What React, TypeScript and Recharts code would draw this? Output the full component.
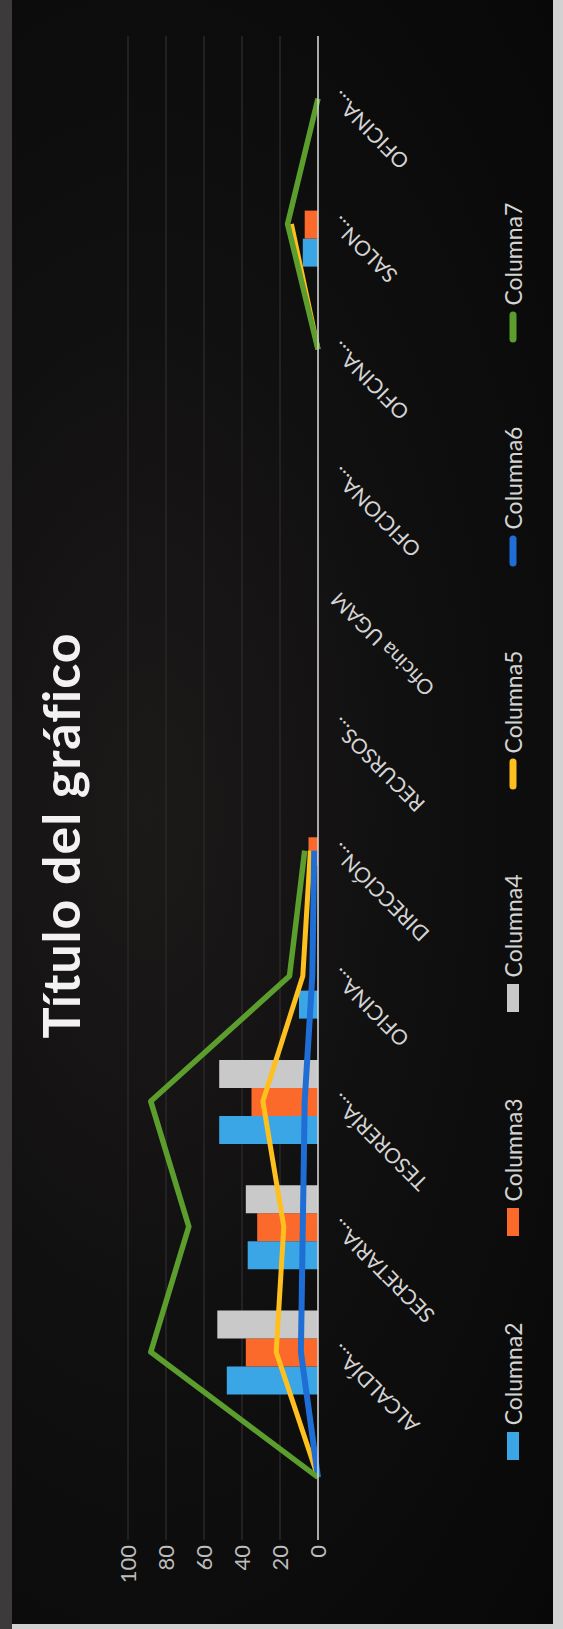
import React from 'react';
import { ComposedChart, Bar, Line, XAxis, YAxis, CartesianGrid, Legend } from 'recharts';

const categories = [
  '',
  'ALCALDÍA...',
  'SECRETARIA...',
  'TESORERÍA...',
  'OFICINA...',
  'DIRECCIÓN...',
  'RECURSOS...',
  'Oficina UGAM',
  'OFICIONA...',
  'OFICINA...',
  'SALON...',
  'OFICINA...',
];

const columna2 = [0, 48, 37, 52, 10, 0, 0, 0, 0, 0, 8, 0];
const columna3 = [0, 38, 32, 35, 0, 5, 0, 0, 0, 0, 7, 0];
const columna4 = [0, 53, 38, 52, 0, 0, 0, 0, 0, 0, 0, 0];
const columna5 = [0, 22, 18, 29, 8, 4, null, null, null, 0, 14, null];
const columna6 = [0, 9, 8, 7, 3, 2, null, null, null, null, null, null];
const columna7 = [0, 88, 68, 88, 15, 7, null, null, null, 0, 16, 0];

const valueTicks = [0, 20, 40, 60, 80, 100];

const data = categories.map((name, i) => ({
  name,
  Columna2: columna2[i],
  Columna3: columna3[i],
  Columna4: columna4[i],
  Columna5: columna5[i],
  Columna6: columna6[i],
  Columna7: columna7[i],
}));

const W = 1629;
const H = 563;
const FONT = 'Lato, "Open Sans", sans-serif';

const CategoryTick = (props: any) => {
  const { x, y, payload } = props;
  const ax = x + 9;
  const ay = y + 22;
  return (
    <text
      x={ax}
      y={ay}
      textAnchor="end"
      transform={`rotate(-45 ${ax} ${ay})`}
      fill="#d4d4d4"
      fontSize={21}
      fontFamily={FONT}
    >
      {payload.value}
    </text>
  );
};

const renderLegend = (props: any) => {
  const { payload } = props;
  return (
    <div
      style={{
        display: 'flex',
        justifyContent: 'center',
        alignItems: 'center',
        gap: 84,
        height: 30,
      }}
    >
      {payload.map((p: any) => (
        <div key={p.value} style={{ display: 'flex', alignItems: 'center', gap: 5 }}>
          <svg width={32} height={14} style={{ display: 'block' }}>
            {p.type === 'rect' ? (
              <rect x={2} y={1} width={28} height={12} fill={p.color} />
            ) : (
              <line x1={4} y1={7} x2={28} y2={7} stroke={p.color} strokeWidth={7} strokeLinecap="round" />
            )}
          </svg>
          <span style={{ color: '#d4d4d4', fontSize: 23, fontFamily: FONT }}>{p.value}</span>
        </div>
      ))}
    </div>
  );
};

export default function App() {
  return (
    <div
      style={{
        position: 'absolute',
        left: 0,
        top: 0,
        width: 563,
        height: 1629,
        background: '#d2d2d2',
        overflow: 'hidden',
      }}
    >
      <div style={{ position: 'absolute', left: 0, top: 0, width: 12, height: 1629, background: '#3c3a3a' }} />
      <div
        style={{
          position: 'absolute',
          left: 12,
          top: 0,
          width: 541,
          height: 1624,
          background: 'radial-gradient(ellipse at 25% 50%, #1c1919 0%, #111010 45%, #090808 100%)',
        }}
      />
      <div
        style={{
          position: 'absolute',
          left: 0,
          top: 0,
          width: W,
          height: H,
          transformOrigin: '0 0',
          transform: `translate(0px, ${W}px) rotate(-90deg)`,
        }}
      >
        <div
          style={{
            position: 'absolute',
            left: -21,
            top: 28,
            width: W,
            textAlign: 'center',
            color: '#f2f2f2',
            fontFamily: FONT,
            fontWeight: 700,
            fontSize: 52,
            lineHeight: '64px',
            letterSpacing: 1,
          }}
        >
          Título del gráfico
        </div>
        <ComposedChart
          width={W}
          height={H}
          data={data}
          margin={{ top: 128, right: 36, left: 29, bottom: 115 }}
          barCategoryGap="16%"
          barGap={0}
        >
          <CartesianGrid vertical={false} stroke="#2a2727" strokeWidth={1.5} />
          <XAxis
            dataKey="name"
            interval={0}
            height={130}
            tickLine={false}
            tickSize={0}
            tickMargin={0}
            axisLine={{ stroke: '#d8d8d8', strokeWidth: 1.5 }}
            tick={<CategoryTick />}
          />
          <YAxis
            domain={[0, 100]}
            ticks={valueTicks}
            width={60}
            axisLine={false}
            tickLine={false}
            tickSize={0}
            tickMargin={5}
            tick={{ fill: '#bdbdbd', fontSize: 22, fontFamily: FONT }}
          />
          <Legend
            layout="horizontal"
            verticalAlign="middle"
            align="center"
            content={renderLegend}
            wrapperStyle={{ top: 498, left: -18, width: W, height: 30 }}
          />
          <Bar dataKey="Columna2" fill="#3aa6e6" legendType="rect" isAnimationActive={false} />
          <Bar dataKey="Columna3" fill="#fb6a2a" legendType="rect" isAnimationActive={false} />
          <Bar dataKey="Columna4" fill="#c9c9c9" legendType="rect" isAnimationActive={false} />
          <Line
            dataKey="Columna5"
            stroke="#fdc01e"
            strokeWidth={5}
            dot={false}
            legendType="line"
            strokeLinejoin="round"
            isAnimationActive={false}
          />
          <Line
            dataKey="Columna6"
            stroke="#1f6ed6"
            strokeWidth={6}
            dot={false}
            legendType="line"
            strokeLinejoin="round"
            isAnimationActive={false}
          />
          <Line
            dataKey="Columna7"
            stroke="#5c9e2e"
            strokeWidth={5.5}
            dot={false}
            legendType="line"
            strokeLinejoin="round"
            isAnimationActive={false}
          />
        </ComposedChart>
      </div>
    </div>
  );
}
